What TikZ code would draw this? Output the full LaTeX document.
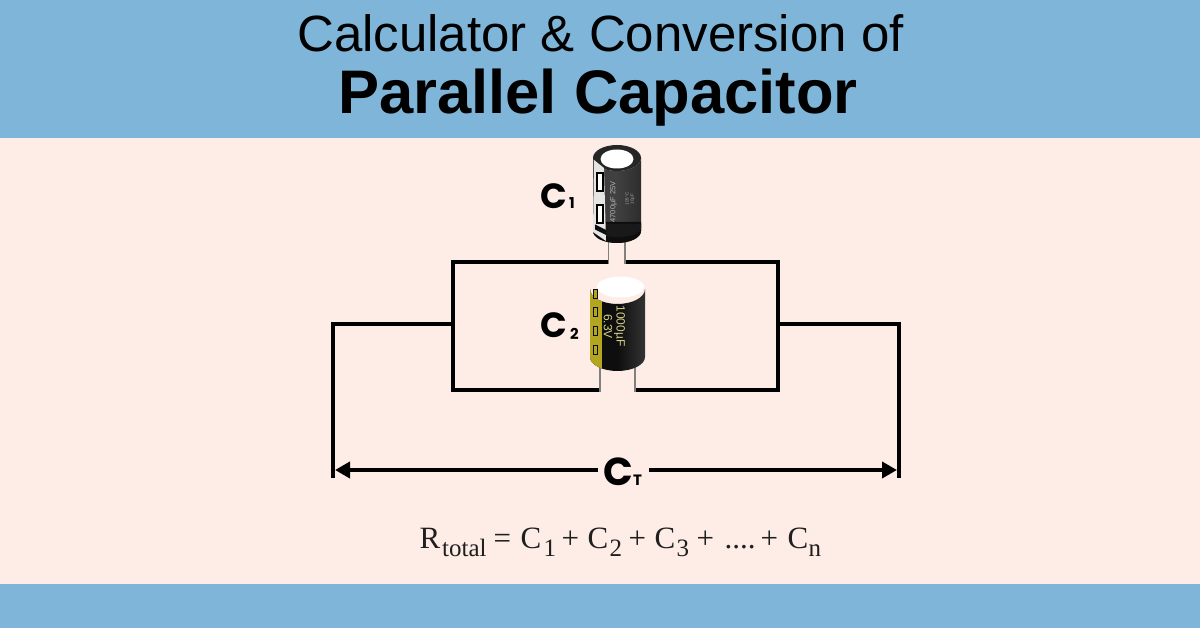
\documentclass[tikz,border=0pt]{standalone}
\usepackage{fontspec}
\setmainfont{Liberation Sans}
\newfontfamily\labelfont{Poppins}[FontFace={b}{n}{*-Bold}]
\newfontfamily\formulafont{Liberation Serif}
\usetikzlibrary{arrows.meta}
\definecolor{bandblue}{HTML}{7EB5D8}
\definecolor{paper}{HTML}{FDEDE6}
\definecolor{capblack}{HTML}{0E0E0E}
\definecolor{capgrey}{HTML}{404040}
\definecolor{stripe}{HTML}{B3A51F}
\definecolor{printy}{HTML}{D0CF85}
\newcommand{\fat}[2]{\rlap{\hspace{\dimexpr #1pt-419pt\relax}#2}}
\newcommand{\fsub}[2]{\rlap{\hspace{\dimexpr #1pt-419pt\relax}\raisebox{-8.7pt}{\fontsize{25}{26}\selectfont #2}}}
\tikzset{
  wire/.style={draw=black,line width=4.2pt,line cap=butt,line join=miter},
  lead/.style={draw=black!50,line width=1.1pt},
  measure/.style={draw=black,line width=3.8pt},
  titlea/.style={font=\fontsize{51}{54}\selectfont,inner sep=0pt},
  titleb/.style={font=\fontsize{61.5}{64}\selectfont\bfseries,inner sep=0pt},
  complabel/.style={font=\labelfont\fontsize{35}{36}\selectfont\bfseries,inner sep=0pt,anchor=base west},
  compsub/.style={font=\labelfont\fontsize{15}{16}\selectfont\bfseries,inner sep=0pt,anchor=base west},
  formula/.style={font=\formulafont\fontsize{31}{32}\selectfont,inner sep=0pt,anchor=base west,text=black!88},
  printed/.style={rotate=-90,inner sep=0pt,font=\fontsize{12}{13}\selectfont,text=printy},
  tip/.style={-{Triangle[length=15pt,width=16pt]}},
  tipback/.style={{Triangle[length=15pt,width=16pt]}-},
}
\begin{document}
\begin{tikzpicture}[x=1pt,y=-1pt]
\useasboundingbox (0,0) rectangle (1200,628);
\fill[paper] (0,0) rectangle (1200,628);
\fill[bandblue] (0,0) rectangle (1200,138.5);
\fill[bandblue] (0,584) rectangle (1200,628);
\node[titlea] (t1) at (600.5,33.5) {Calculator \& Conversion of};
\node[titleb] (t2) at (598,98) {Parallel Capacitor};

% wires
\coordinate (jl) at (453,324);
\coordinate (jr) at (778,324);
\coordinate (topl) at (608,262);
\coordinate (topr) at (625,262);
\coordinate (botl) at (600,390);
\coordinate (botr) at (635,390);
\coordinate (endl) at (333,478);
\coordinate (endr) at (899,478);
\draw[wire] (topl) -| (jl) |- (botl);
\draw[wire] (topr) -| (jr) |- (botr);
\draw[wire] (endl) |- (jl);
\draw[wire] (endr) |- (jr);

% C1 capacitor
\draw[lead] (608.5,240) -- (608.5,264);
\draw[lead] (625,240) -- (625,264);
\path[left color=capgrey,right color=capgrey!70!black,middle color=capgrey]
  (593,158) arc[start angle=180,end angle=0,x radius=24,y radius=13]
  -- (641,231) arc[start angle=0,end angle=180,x radius=24,y radius=12] -- cycle;
\path[fill=black!85] (593,158) arc[start angle=180,end angle=0,x radius=24,y radius=13]
  arc[start angle=0,end angle=-180,x radius=24,y radius=13];
\fill[capblack] (593,222) -- (641,222) -- (641,231) arc[start angle=0,end angle=180,x radius=24,y radius=12] -- cycle;
\fill[capgrey!40!black] (593,224) -- (641,224) -- (641,228) arc[start angle=0,end angle=180,x radius=24,y radius=9] -- cycle;
\fill[white] (617,159) ellipse[x radius=16.5,y radius=9.5];
% C1 sleeve
\path[fill=black!10] (594,160) -- (604,168) -- (606,241) -- (593,232) -- cycle;
\draw[black,line width=1.1pt,fill=white] (597,173) rectangle (603,191);
\draw[black,line width=1.1pt,fill=white] (597,205) rectangle (603,223);
\fill[capblack] (595,224.5) -- (606,230) -- (606,235) -- (595,229.5) -- cycle;
\node[rotate=90,inner sep=0pt,font=\fontsize{7.5}{8}\selectfont,text=white!70!black] (c1a) at (613.5,202) {4700µF 25V};
\node[rotate=90,inner sep=0pt,font=\fontsize{4.5}{5}\selectfont,text=white!65!black,align=center] (c1b) at (630,199) {105°C\\ 10µF};

% C2 capacitor
\draw[lead] (600,360) -- (600,392);
\draw[lead] (635,360) -- (635,392);
\begin{scope}
\clip (590,289) arc[start angle=180,end angle=0,x radius=27.5,y radius=15]
  -- (645,357) arc[start angle=0,end angle=180,x radius=27.5,y radius=14] -- cycle;
\path[left color=capblack,right color=capgrey!80!black,middle color=capblack] (590,270) rectangle (645,375);
\fill[stripe] (590,270) rectangle (602,375);
\end{scope}
\fill[white] (620.5,287) ellipse[x radius=23.5,y radius=10.5];
\foreach \yy in {294,312.5,331.5,350} \draw[capblack,line width=1pt,fill=stripe] (593,\yy-4.5) rectangle (597,\yy+4.5);
\node[printed] (c2a) at (619.5,326) {1000µF};
\node[printed] (c2b) at (608,326.5) {6.3V};

% labels
\node[complabel] (l1) at (540,208.5) {C};
\node[compsub] (l1s) at (569,209) {1};
\node[complabel] (l2) at (540,338) {C};
\node[compsub] (l2s) at (570,340) {2};
\node[complabel,font=\labelfont\fontsize{39}{40}\selectfont\bfseries] (lt) at (603.5,485) {C};
\node[compsub] (lts) at (633,485.5) {T};
\coordinate (ml) at (335,470);
\coordinate (mr) at (897,470);
\coordinate (gl) at (598,470);
\coordinate (gr) at (649,470);
\draw[measure,tipback] (ml) -- (gl);
\draw[measure,tip] (gr) -- (mr);

\node[formula] (f) at (419,548) {\fat{419}{R}\fsub{441.5}{total}\fat{493}{=}\fat{520}{C}\fsub{543}{1}\fat{561}{+}\fat{587}{C}\fsub{609}{2}\fat{628}{+}\fat{654}{C}\fsub{676}{3}\fat{696}{+}\fat{724}{....}\fat{760}{+}\fat{787}{C}\fsub{808}{n}\hspace{402pt}};
\end{tikzpicture}
\end{document}
